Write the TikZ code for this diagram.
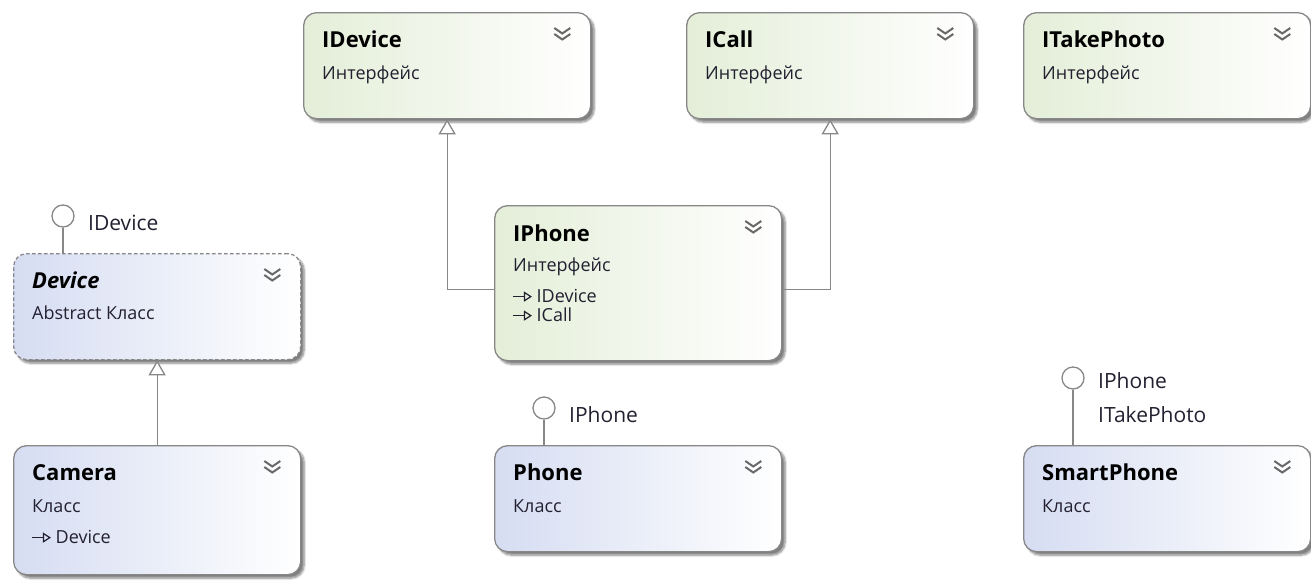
\documentclass[tikz,border=0pt]{standalone}
\usepackage{fontspec}
\setmainfont{Open Sans}
\usepackage{tikz}
\usetikzlibrary{calc,arrows.meta,shadows.blur}

\definecolor{boxline}{RGB}{135,135,135}
\definecolor{ifacefill}{RGB}{228,238,216}
\definecolor{classfill}{RGB}{214,221,242}
\definecolor{kindtext}{RGB}{35,32,48}
\definecolor{chevgray}{RGB}{105,105,105}

% small "implements" arrow used in the member lists
\newcommand\implarrow{\tikz[baseline=-0.3em,x=1pt,y=1pt]
  \draw[line width=1.5pt,-{Triangle[open,length=8pt,width=10pt,line width=1.2pt]}] (0,0) -- (19,0);\hspace{4pt}}

\begin{document}
\begin{tikzpicture}[
  x=1pt, y=-1pt,
  box/.style={rectangle, rounded corners=13pt, draw=boxline, line width=1.3pt,
    anchor=north west, minimum width=287pt, minimum height=106pt, inner sep=0pt,
    blur shadow={shadow xshift=3.5pt, shadow yshift=-3.5pt, shadow blur steps=6, shadow opacity=50}},
  iface/.style={box, left color=ifacefill, right color=white},
  klass/.style={box, left color=classfill, right color=white},
  title/.style={anchor=base west, inner sep=0pt, font=\bfseries\fontsize{22}{26}\selectfont},
  kind/.style={anchor=base west, inner sep=0pt, text=kindtext, font=\fontsize{18}{21}\selectfont},
  member/.style={anchor=base west, inner sep=0pt, text=kindtext, font=\fontsize{18}{21}\selectfont},
  lolli/.style={circle, draw=boxline, fill=white, line width=1.3pt, minimum size=22pt, inner sep=0pt},
  lollilabel/.style={anchor=base west, inner sep=0pt, text=kindtext, font=\fontsize{21}{25}\selectfont},
  link/.style={draw=boxline, line width=1.3pt},
  inherit/.style={link, -{Triangle[open, width=17pt, length=15pt, fill=white]}},
  chev/.style={draw=chevgray, line width=2pt}
]
\useasboundingbox (0,0) rectangle (1311,581);

% interfaces on top
\node[iface] (idevice) at (303,12) {};
\node[iface] (icall) at (686,12) {};
\node[iface] (itakephoto) at (1023,12) {};
\node[iface, minimum height=155pt] (iphone) at (494,205) {};

% classes
\node[klass, dashed, dash pattern=on 3.5pt off 2.5pt] (device) at (13,253) {};
\node[klass, minimum height=129pt] (camera) at (13,445) {};
\node[klass] (phone) at (494,445) {};
\node[klass] (smartphone) at (1023,445) {};

% titles and kinds
\node[title] (idevicet) at ([xshift=19pt,yshift=-35pt]idevice.north west) {IDevice};
\node[kind] (idevicek) at ([xshift=19pt,yshift=-67pt]idevice.north west) {Интерфейс};
\node[title] (icallt) at ([xshift=19pt,yshift=-35pt]icall.north west) {ICall};
\node[kind] (icallk) at ([xshift=19pt,yshift=-67pt]icall.north west) {Интерфейс};
\node[title] (itakephotot) at ([xshift=19pt,yshift=-35pt]itakephoto.north west) {ITakePhoto};
\node[kind] (itakephotok) at ([xshift=19pt,yshift=-67pt]itakephoto.north west) {Интерфейс};
\node[title] (iphonet) at ([xshift=19pt,yshift=-36pt]iphone.north west) {IPhone};
\node[kind] (iphonek) at ([xshift=19pt,yshift=-66pt]iphone.north west) {Интерфейс};
\node[member] (iphonem1) at ([xshift=18pt,yshift=-97pt]iphone.north west) {\implarrow IDevice};
\node[member] (iphonem2) at ([xshift=18pt,yshift=-116pt]iphone.north west) {\implarrow ICall};

\node[title, font=\bfseries\itshape\fontsize{22}{26}\selectfont] (devicet) at ([xshift=19pt,yshift=-35pt]device.north west) {Device};
\node[kind] (devicek) at ([xshift=19pt,yshift=-66pt]device.north west) {Abstract Класс};
\node[title] (camerat) at ([xshift=19pt,yshift=-35pt]camera.north west) {Camera};
\node[kind] (camerak) at ([xshift=19pt,yshift=-67pt]camera.north west) {Класс};
\node[member] (cameram) at ([xshift=18pt,yshift=-98pt]camera.north west) {\implarrow Device};
\node[title] (phonet) at ([xshift=19pt,yshift=-35pt]phone.north west) {Phone};
\node[kind] (phonek) at ([xshift=19pt,yshift=-67pt]phone.north west) {Класс};
\node[title] (smartphonet) at ([xshift=19pt,yshift=-35pt]smartphone.north west) {SmartPhone};
\node[kind] (smartphonek) at ([xshift=19pt,yshift=-67pt]smartphone.north west) {Класс};

% collapse chevrons
\foreach \b in {idevice,icall,itakephoto,iphone,device,camera,phone,smartphone}{
  \draw[chev] ([xshift=-37pt,yshift=-16pt]\b.north east) -- ++(8,5.5) -- ++(8,-5.5);
  \draw[chev] ([xshift=-37pt,yshift=-22pt]\b.north east) -- ++(8,5.5) -- ++(8,-5.5);
}

% inheritance
\draw[inherit] ([yshift=-6pt]iphone.west) -| (idevice.south);
\draw[inherit] ([yshift=-6pt]iphone.east) -| (icall.south);
\draw[inherit] (camera.north) -- (device.south);

% lollipops
\node[lolli] (devicelp) at (63,216) {};
\draw[link] (devicelp) -- (devicelp |- device.north);
\node[lollilabel] (devicelpt) at (88,230) {IDevice};
\node[lolli] (phonelp) at (544,408) {};
\draw[link] (phonelp) -- (phonelp |- phone.north);
\node[lollilabel] (phonelpt) at (569,422) {IPhone};
\node[lolli] (smartphonelp) at (1073,378) {};
\draw[link] (smartphonelp) -- (smartphonelp |- smartphone.north);
\node[lollilabel] (smartphonelpt) at (1098,388) {IPhone};
\node[lollilabel] (smartphonelpt2) at (1098,422) {ITakePhoto};
\end{tikzpicture}
\end{document}
